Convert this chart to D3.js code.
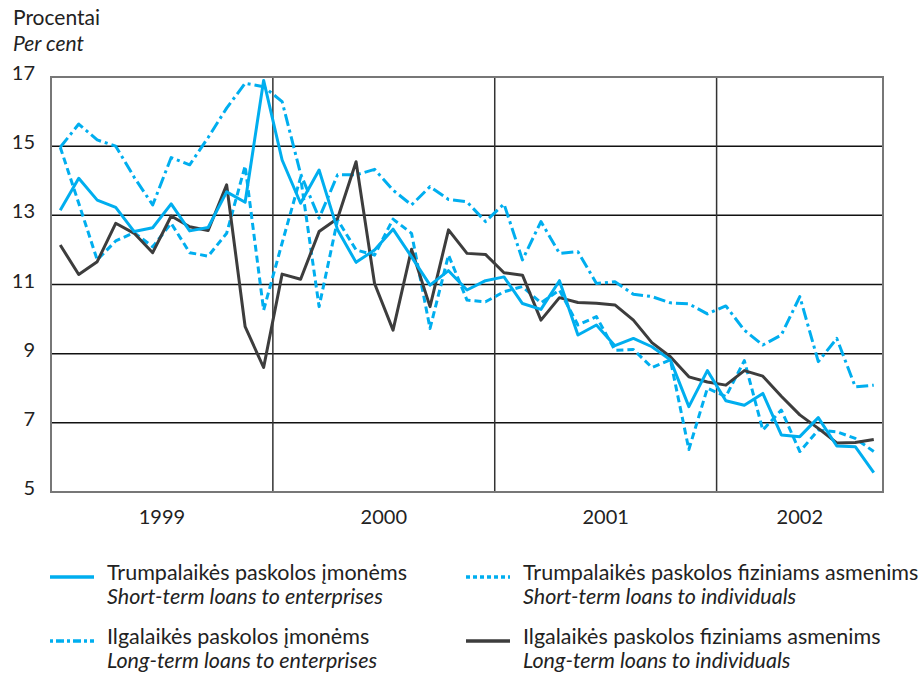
<!DOCTYPE html>
<html>
<head>
<meta charset="utf-8">
<script src="https://cdn.jsdelivr.net/npm/d3@7"></script>
<style>
  body { margin: 0; background: #fff; }
  text { font-family: Lato, "Open Sans", sans-serif; fill: #222; }
</style>
</head>
<body>
<div id="chart"></div>
<script>

// monthly data, Jan 1999 - Sep 2002
var years = ["1999", "2000", "2001", "2002"];
var yTicks = [5, 7, 9, 11, 13, 15, 17];

var shortEnterprises = [13.15, 14.07, 13.44, 13.23, 12.53, 12.64, 13.33, 12.55, 12.65, 13.68, 13.38, 16.9,
    14.6, 13.35, 14.31, 12.58, 11.64, 12.0, 12.6, 11.8, 10.98, 11.4, 10.84, 11.11,
    11.22, 10.45, 10.28, 11.11, 9.54, 9.83, 9.23, 9.44, 9.2, 8.82, 7.47, 8.51,
    7.64, 7.51, 7.85, 6.65, 6.6, 7.15, 6.33, 6.31, 5.56];

var shortIndividuals = [14.97, 13.35, 11.71, 12.26, 12.5, 12.09, 12.77, 11.92, 11.82, 12.48, 14.43, 10.26,
    12.2, 14.1, 10.36, 12.87, 12.0, 11.85, 12.89, 12.48, 9.73, 11.85, 10.55, 10.5,
    10.79, 10.94, 10.47, 10.84, 9.83, 10.07, 9.1, 9.12, 8.6, 8.82, 6.23, 8.0,
    7.76, 8.8, 6.79, 7.37, 6.17, 6.79, 6.74, 6.55, 6.17];

var longEnterprises = [14.97, 15.64, 15.18, 15.0, 14.1, 13.3, 14.67, 14.46, 15.25, 16.1, 16.82, 16.72,
    16.29, 14.2, 12.92, 14.17, 14.17, 14.33, 13.73, 13.3, 13.83, 13.46, 13.39, 12.82,
    13.33, 11.71, 12.82, 11.9, 11.95, 11.03, 11.08, 10.72, 10.65, 10.47, 10.44, 10.15,
    10.38, 9.68, 9.25, 9.54, 10.65, 8.77, 9.44, 8.04, 8.09];

var longIndividuals = [12.14, 11.29, 11.66, 12.77, 12.48, 11.92, 12.98, 12.67, 12.56, 13.88, 9.78, 8.6,
    11.3, 11.15, 12.53, 12.91, 14.55, 11.03, 9.68, 12.02, 10.36, 12.58, 11.9, 11.87,
    11.34, 11.27, 9.97, 10.62, 10.48, 10.46, 10.41, 9.97, 9.32, 8.91, 8.33, 8.18,
    8.09, 8.51, 8.35, 7.77, 7.23, 6.84, 6.42, 6.43, 6.52];

var seriesNames = [
    ["Trumpalaikės paskolos įmonėms", "Short-term loans to enterprises"],
    ["Trumpalaikės paskolos fiziniams asmenims", "Short-term loans to individuals"],
    ["Ilgalaikės paskolos įmonėms", "Long-term loans to enterprises"],
    ["Ilgalaikės paskolos fiziniams asmenims", "Long-term loans to individuals"]
];

var blue = "#00aeef", grey = "#3d3d3d";

var series = [
    {values: shortEnterprises, color: blue, dash: null},
    {values: shortIndividuals, color: blue, dash: "7,4"},
    {values: longEnterprises, color: blue, dash: "12,4,3,4"},
    {values: longIndividuals, color: grey, dash: null}
];

var margin = {top: 77, left: 51},
    width = 832,
    height = 415;

var x = d3.scaleLinear()
    .domain([0, 45])
    .range([0, width]);

var y = d3.scaleLinear()
    .domain([5, 17])
    .range([height, 0]);

var svg = d3.select("#chart")
    .append("svg")
        .attr("width", 920)
        .attr("height", 677);

svg.append("text")
    .attr("x", 13).attr("y", 25)
    .style("font-size", "21px")
    .text("Procentai");
svg.append("text")
    .attr("x", 13).attr("y", 51)
    .style("font-size", "21px")
    .style("font-style", "italic")
    .text("Per cent");

var g = svg.append("g")
    .attr("transform", "translate(" + margin.left + "," + margin.top + ")");

// horizontal grid
g.selectAll(".grid")
    .data(yTicks.filter(function(d) { return d > 5 && d < 17; }))
    .enter().append("line")
    .attr("x1", 0).attr("x2", width)
    .attr("y1", function(d) { return y(d); })
    .attr("y2", function(d) { return y(d); })
    .attr("stroke", "#111")
    .attr("stroke-width", 1.5);

// year separators
g.selectAll(".year-line")
    .data([12, 24, 36])
    .enter().append("line")
    .attr("x1", function(d) { return x(d); })
    .attr("x2", function(d) { return x(d); })
    .attr("y1", 0).attr("y2", height)
    .attr("stroke", "#333")
    .attr("stroke-width", 1.5);

g.append("rect")
    .attr("width", width).attr("height", height)
    .attr("fill", "none")
    .attr("stroke", "#777")
    .attr("stroke-width", 2);

// y tick labels
g.selectAll(".ytick")
    .data(yTicks)
    .enter().append("text")
    .attr("x", -16)
    .attr("y", function(d) { return y(d) - 2; })
    .attr("text-anchor", "end")
    .attr("dominant-baseline", "middle")
    .style("font-size", "20px")
    .text(function(d) { return d; });

// year labels centred in each year's span
g.selectAll(".xlabel")
    .data(years)
    .enter().append("text")
    .attr("x", function(d, i) { return (x(i * 12) + x(Math.min(i * 12 + 12, 45))) / 2; })
    .attr("y", height + 32)
    .attr("text-anchor", "middle")
    .style("font-size", "20px")
    .text(function(d) { return d; });

var line = d3.line()
    .x(function(d, i) { return x(i + 0.5); })
    .y(function(d) { return y(d); });

var drawOrder = [1, 2, 3, 0];
drawOrder.forEach(function(k) {
    var s = series[k];
    g.append("path")
        .datum(s.values)
        .attr("d", line)
        .attr("fill", "none")
        .attr("stroke", s.color)
        .attr("stroke-width", 3)
        .attr("stroke-linejoin", "round")
        .attr("stroke-dasharray", s.dash);
});

// legend
var legendPos = [[50, 577], [466, 577], [50, 641], [466, 641]];
var legendDash = [null, "4,3", "3,3,8,3", null];

series.forEach(function(s, i) {
    var lx = legendPos[i][0], ly = legendPos[i][1];
    svg.append("line")
        .attr("x1", lx).attr("x2", lx + 44)
        .attr("y1", ly).attr("y2", ly)
        .attr("stroke", s.color)
        .attr("stroke-width", 3.5)
        .attr("stroke-dasharray", legendDash[i]);
    svg.append("text")
        .attr("x", lx + 57).attr("y", ly + 3)
        .style("font-size", "21.5px")
        .text(seriesNames[i][0]);
    svg.append("text")
        .attr("x", lx + 57).attr("y", ly + 27)
        .style("font-size", "21.5px")
        .style("font-style", "italic")
        .text(seriesNames[i][1]);
});

</script>
</body>
</html>
